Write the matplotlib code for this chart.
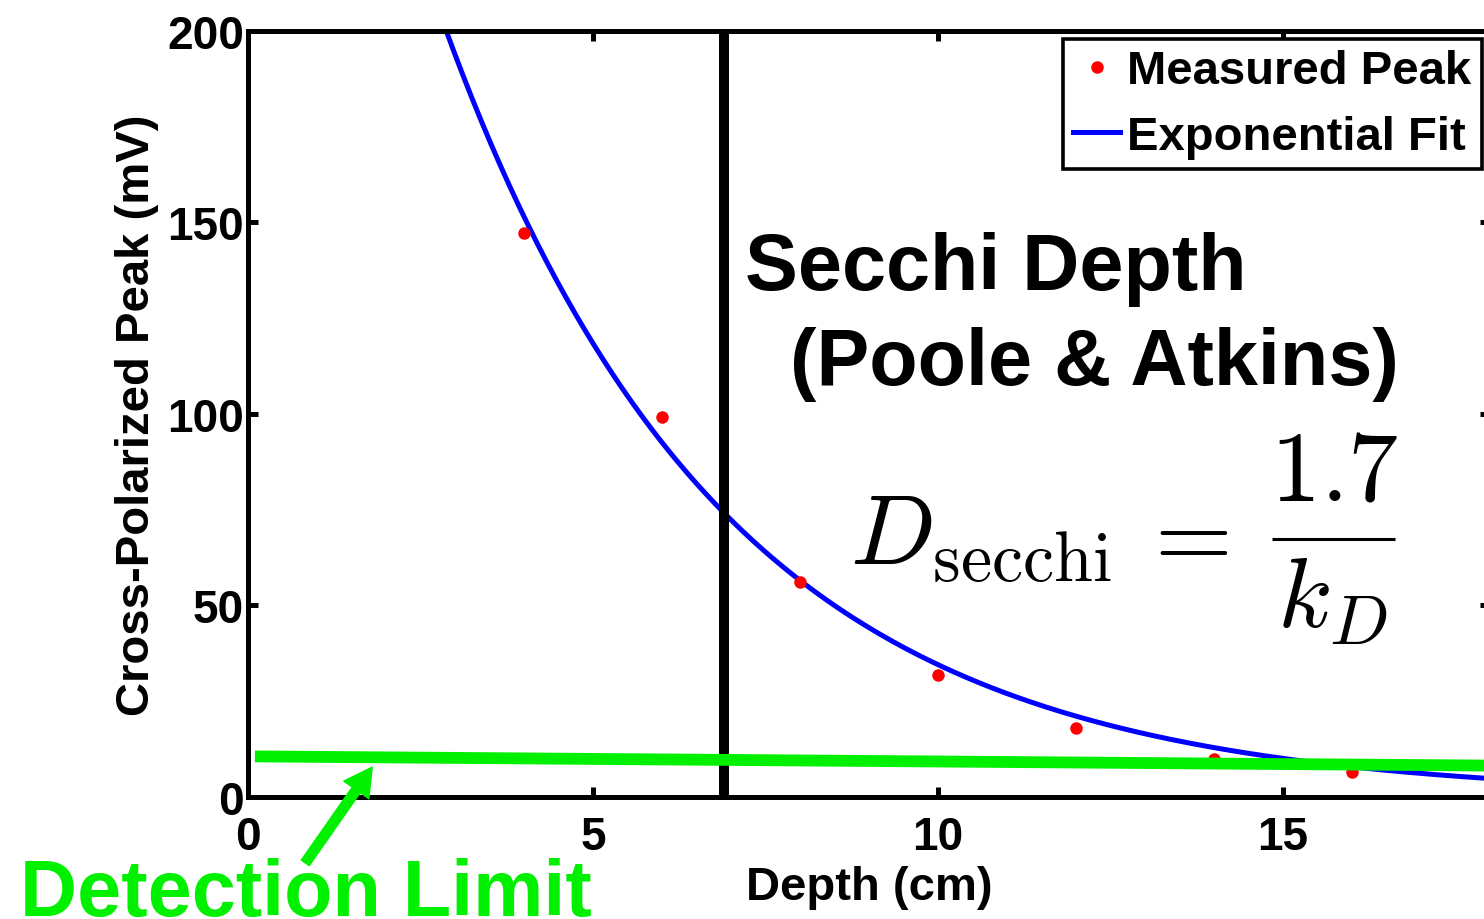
import numpy as np
import matplotlib
matplotlib.use("Agg")
import matplotlib.pyplot as plt

plt.rcParams["font.family"] = ["Liberation Sans", "DejaVu Sans"]
plt.rcParams["font.weight"] = "bold"
plt.rcParams["axes.labelweight"] = "bold"
plt.rcParams["mathtext.fontset"] = "cm"

# measured cross-polarized peak vs depth
depth = [4, 6, 8, 10, 12, 14, 16]
peak = [147.3, 99.2, 56.1, 31.9, 18.0, 9.9, 6.5]

# exponential fit  peak = amp * exp(-k_d * depth)
amp = 406.0
k_d = 0.2464
secchi = 1.7 / k_d

# detection limit line end points
det_x = [0.1, 18.0]
det_y = [10.6, 8.2]

green = "#00f000"

fig = plt.figure(figsize=(14.84, 9.2), dpi=100)
ax = fig.add_axes([0.16712, 0.13261, 0.83692, 0.83261])

xf = np.linspace(0, 18, 400)
ax.plot(depth, peak, "o", color="red", markersize=9, markeredgewidth=0,
        label="Measured Peak", zorder=3)
ax.plot(xf, amp * np.exp(-k_d * xf), color="blue", lw=3.6,
        label="Exponential Fit", zorder=2)
ax.axvline(secchi, color="black", lw=7.2, zorder=2.5)
ax.plot(det_x, det_y, color=green, lw=8.5, solid_capstyle="butt", zorder=4)

ax.set_xlim(0, 18)
ax.set_ylim(0, 200)
ax.set_xticks([0, 5, 10, 15])
ax.set_yticks([0, 50, 100, 150, 200])
ax.tick_params(direction="in", length=7, width=3.6, labelsize=33,
               top=True, right=True)
ax.tick_params(axis="x", pad=13)
ax.tick_params(axis="y", pad=3)
for sp in ax.spines.values():
    sp.set_linewidth(3.6)

ax.set_xlabel("Depth (cm)", fontsize=34, fontweight="bold", labelpad=4)
ax.set_ylabel("Cross-Polarized Peak (mV)", fontsize=34, fontweight="bold",
              labelpad=6)

leg = ax.legend(loc="upper right", prop={"weight": "bold", "size": 34},
                fancybox=False, edgecolor="black", framealpha=1,
                borderaxespad=0.17, borderpad=0.22, handlelength=1.0,
                handletextpad=0.15, labelspacing=0.45, numpoints=1)
leg.get_frame().set_linewidth(2.6)

ax.text(7.2, 132.6, "Secchi Depth", fontsize=57, fontweight="bold",
        ha="left", va="baseline")
ax.text(7.86, 107.8, "(Poole & Atkins)", fontsize=57, fontweight="bold",
        ha="left", va="baseline")

# D_secchi = 1.7 / k_D, set piece by piece for display-style spacing
eq_size = 72
ax.text(8.72, 60.8, r"$D_{\rm secchi}$", fontsize=eq_size,
        ha="left", va="baseline")
ax.text(13.55, 67.4, r"$=$", fontsize=eq_size, ha="center", va="center")
ax.text(15.74, 77.8, r"$1.7$", fontsize=eq_size, ha="center", va="baseline")
ax.plot([14.84, 16.62], [67.4, 67.4], color="black", lw=2.2,
        solid_capstyle="butt")
ax.text(15.71, 44.4, r"$k_D$", fontsize=eq_size, ha="center", va="baseline")

# detection limit label and arrow
ax.annotate("", xy=(1.8, 7.8), xytext=(0.83, -17.2),
            arrowprops=dict(facecolor=green, edgecolor=green, width=7,
                            headwidth=22, headlength=20, shrink=0),
            annotation_clip=False)
ax.text(-3.3, -30.8, "Detection Limit", fontsize=57, fontweight="bold",
        color=green, ha="left", va="baseline", clip_on=False)

fig.savefig("out.png", dpi=100)
